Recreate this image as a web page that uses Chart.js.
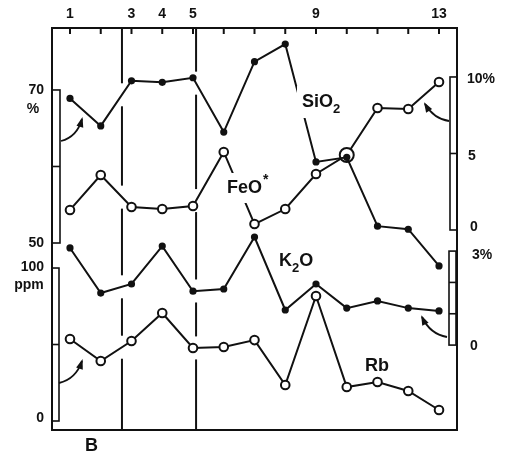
<!DOCTYPE html>
<html>
<head>
<meta charset="utf-8">
<script src="https://cdn.jsdelivr.net/npm/chart.js@4.4.1/dist/chart.umd.min.js"></script>
<style>
  html, body { margin: 0; padding: 0; background: #fff; }
  #wrap { width: 507px; height: 461px; }
</style>
</head>
<body>
<div id="wrap"><canvas id="chart"></canvas></div>
<script>
// sample numbers (x) and the ones labelled on the top edge
const samples = [1, 2, 3, 4, 5, 6, 7, 8, 9, 10, 11, 12, 13];
const topLabels = ['1', '', '3', '4', '5', '', '', '', '9', '', '', '', '13'];

// SiO2 (%), left upper scale bar
const sio2 = [68.9, 65.3, 71.2, 71.0, 71.6, 64.5, 73.7, 76.0, 60.6, 61.2, 52.2, 51.8, 47.0];
// FeO* (%), right upper scale bar
const feo = [1.31, 3.59, 1.50, 1.37, 1.57, 5.10, 0.39, 1.37, 3.66, 4.90, 7.97, 7.91, 9.67];
// K2O (%), right lower scale bar
const k2o = [3.10, 1.66, 1.95, 3.16, 1.72, 1.79, 3.45, 1.12, 1.95, 1.18, 1.41, 1.18, 1.09];
// Rb (ppm), left lower scale bar
const rb = [53.6, 39.2, 52.3, 70.6, 47.7, 48.4, 52.9, 23.5, 81.7, 22.2, 25.5, 19.6, 7.2];

// vertical boundaries between units
const boundaries = [2.69, 5.1];

// scale bar ticks
const sio2Ticks = [50, 60, 70];
const feoTicks = [0, 5, 10];
const k2oTicks = [0, 1, 2, 3];
const rbTicks = [0, 50, 100];

const INK = '#111';
const FONT = '"Liberation Sans", Arial, sans-serif';

function pts(vals) {
  return samples.map((s, i) => ({ x: s, y: vals[i] }));
}

function arrow(ctx, x0, y0, cx, cy, x1, y1) {
  ctx.beginPath();
  ctx.moveTo(x0, y0);
  ctx.quadraticCurveTo(cx, cy, x1, y1);
  ctx.stroke();
  const a = Math.atan2(y1 - cy, x1 - cx);
  const L = 8, W = 3.5;
  ctx.beginPath();
  ctx.moveTo(x1 + Math.cos(a) * 2, y1 + Math.sin(a) * 2);
  ctx.lineTo(x1 - Math.cos(a) * L + Math.sin(a) * W, y1 - Math.sin(a) * L - Math.cos(a) * W);
  ctx.lineTo(x1 - Math.cos(a) * L - Math.sin(a) * W, y1 - Math.sin(a) * L + Math.cos(a) * W);
  ctx.closePath();
  ctx.fill();
}

function scaleBar(ctx, scale, x0, w, ticks) {
  const top = scale.getPixelForValue(ticks[ticks.length - 1]);
  const bot = scale.getPixelForValue(ticks[0]);
  ctx.strokeRect(x0, top, w, bot - top);
  ticks.slice(1, -1).forEach(t => {
    const y = scale.getPixelForValue(t);
    ctx.beginPath();
    ctx.moveTo(x0, y);
    ctx.lineTo(x0 + w, y);
    ctx.stroke();
  });
}

function text(ctx, str, x, y, size, align) {
  ctx.font = 'bold ' + size + 'px ' + FONT;
  ctx.textAlign = align || 'left';
  ctx.fillText(str, x, y);
}

// text with a white box behind it (cuts the line it sits on)
function boxedLabel(ctx, parts, x, y, pad) {
  let w = 0;
  parts.forEach(p => {
    ctx.font = 'bold ' + p.size + 'px ' + FONT;
    w += ctx.measureText(p.t).width + (p.gap || 0);
  });
  if (pad >= 0) {
    ctx.fillStyle = '#fff';
    ctx.fillRect(x - pad, y - 16 - pad, w + pad * 2, 22 + pad * 2);
  }
  ctx.fillStyle = INK;
  let cx = x;
  parts.forEach(p => {
    ctx.font = 'bold ' + p.size + 'px ' + FONT;
    ctx.textAlign = 'left';
    ctx.fillText(p.t, cx, y + (p.dy || 0));
    cx += ctx.measureText(p.t).width + (p.gap || 0);
  });
}

// y pixels where the series lines cross a vertical boundary
function crossings(chart, b) {
  const x = chart.scales.x;
  const series = [[sio2, 'ySi'], [feo, 'yFe'], [k2o, 'yK'], [rb, 'yRb']];
  const i = samples.findIndex((s, k) => s <= b && samples[k + 1] > b);
  const xb = x.getPixelForValue(b);
  return series.map(([vals, id]) => {
    const sc = chart.scales[id];
    const x1 = x.getPixelForValue(samples[i]), x2 = x.getPixelForValue(samples[i + 1]);
    const y1 = sc.getPixelForValue(vals[i]), y2 = sc.getPixelForValue(vals[i + 1]);
    return y1 + (y2 - y1) * (xb - x1) / (x2 - x1);
  }).sort((p, q) => p - q);
}

const decor = {
  id: 'decor',
  beforeDatasetsDraw(chart) {
    const { ctx, chartArea: a, scales } = chart;
    ctx.save();
    ctx.strokeStyle = INK;
    ctx.lineWidth = 2;
    const half = 11.5;
    boundaries.forEach(b => {
      const x = scales.x.getPixelForValue(b);
      let y = a.top;
      crossings(chart, b).forEach(c => {
        ctx.beginPath();
        ctx.moveTo(x, y);
        ctx.lineTo(x, c - half);
        ctx.stroke();
        y = c + half;
      });
      ctx.beginPath();
      ctx.moveTo(x, y);
      ctx.lineTo(x, a.bottom);
      ctx.stroke();
    });
    ctx.restore();
  },
  afterDatasetsDraw(chart) {
    const { ctx, chartArea: a, scales } = chart;
    ctx.save();
    ctx.strokeStyle = INK;
    ctx.fillStyle = INK;
    ctx.lineWidth = 2;
    ctx.strokeRect(a.left, a.top, a.right - a.left, a.bottom - a.top);

    // top ticks and sample numbers
    ctx.textBaseline = 'middle';
    samples.forEach((s, i) => {
      const x = scales.x.getPixelForValue(s);
      ctx.beginPath();
      ctx.moveTo(x, a.top);
      ctx.lineTo(x, a.top + 6);
      ctx.stroke();
      if (topLabels[i]) text(ctx, topLabels[i], x, 14, 14, 'center');
    });

    // scale bars
    ctx.lineWidth = 1.6;
    scaleBar(ctx, scales.ySi, a.left, 8, sio2Ticks);
    scaleBar(ctx, scales.yRb, a.left, 7, rbTicks);
    scaleBar(ctx, scales.yFe, a.right - 7, 7, feoTicks);
    scaleBar(ctx, scales.yK, a.right - 8, 7, k2oTicks);

    // scale labels
    const ySi = scales.ySi, yFe = scales.yFe, yK = scales.yK, yRb = scales.yRb;
    text(ctx, '70', 44, ySi.getPixelForValue(70), 14, 'right');
    text(ctx, '%', 33, ySi.getPixelForValue(70) + 19, 14, 'center');
    text(ctx, '50', 44, ySi.getPixelForValue(50), 14, 'right');
    text(ctx, '100', 44, yRb.getPixelForValue(100) - 1, 14, 'right');
    text(ctx, 'ppm', 29, yRb.getPixelForValue(100) + 17, 14, 'center');
    text(ctx, '0', 44, yRb.getPixelForValue(0) - 3, 14, 'right');
    text(ctx, '10%', 467, yFe.getPixelForValue(10) + 2, 14, 'left');
    text(ctx, '5', 468, yFe.getPixelForValue(5) + 3, 14, 'left');
    text(ctx, '0', 470, yFe.getPixelForValue(0) - 3, 14, 'left');
    text(ctx, '3%', 472, yK.getPixelForValue(3) + 4, 14, 'left');
    text(ctx, '0', 470, yK.getPixelForValue(0) + 1, 14, 'left');

    // curved arrows from the scale bars to their curves
    ctx.lineWidth = 1.8;
    arrow(ctx, 61, 141, 77, 137, 82, 119);
    arrow(ctx, 59, 383, 76, 379, 82, 361);
    arrow(ctx, 449, 121, 434, 119, 425, 104);
    arrow(ctx, 447, 337, 430, 334, 422, 317);

    // curve labels
    ctx.textBaseline = 'alphabetic';
    boxedLabel(ctx, [{ t: 'SiO', size: 18 }, { t: '2', size: 13, dy: 6 }], 302, 107, 5);
    boxedLabel(ctx, [{ t: 'FeO', size: 18, gap: 1 }, { t: '*', size: 14, dy: -9 }], 227, 193, 4);
    boxedLabel(ctx, [{ t: 'K', size: 18 }, { t: '2', size: 13, dy: 6 }, { t: 'O', size: 18 }], 279, 266, 2);
    boxedLabel(ctx, [{ t: 'Rb', size: 18 }], 365, 371, -1);
    text(ctx, 'B', 85, 451, 18, 'left');
    ctx.restore();
  }
};

const feoRadius = feo.map((v, i) => (i === 9 ? 7 : 4.3));

new Chart(document.getElementById('chart'), {
  type: 'line',
  data: {
    datasets: [
      {
        label: 'SiO2', data: pts(sio2), yAxisID: 'ySi', order: 1, tension: 0,
        borderColor: INK, borderWidth: 2, pointRadius: 3.6,
        pointBackgroundColor: INK, pointBorderColor: INK, pointBorderWidth: 0
      },
      {
        label: 'FeO*', data: pts(feo), yAxisID: 'yFe', order: 2, tension: 0,
        borderColor: INK, borderWidth: 2, pointRadius: feoRadius,
        pointBackgroundColor: '#fff', pointBorderColor: INK, pointBorderWidth: 2
      },
      {
        label: 'K2O', data: pts(k2o), yAxisID: 'yK', order: 1, tension: 0,
        borderColor: INK, borderWidth: 2, pointRadius: 3.6,
        pointBackgroundColor: INK, pointBorderColor: INK, pointBorderWidth: 0
      },
      {
        label: 'Rb', data: pts(rb), yAxisID: 'yRb', order: 2, tension: 0,
        borderColor: INK, borderWidth: 2, pointRadius: 4.3,
        pointBackgroundColor: '#fff', pointBorderColor: INK, pointBorderWidth: 2
      }
    ]
  },
  options: {
    responsive: true,
    maintainAspectRatio: false,
    animation: false,
    layout: { padding: { left: 52, top: 28, right: 50, bottom: 31 } },
    plugins: { legend: { display: false }, tooltip: { enabled: false } },
    scales: {
      x: { type: 'linear', min: 0.415, max: 13.585, display: false },
      ySi: { type: 'linear', min: 25.56, max: 78.10, display: false },
      yFe: { type: 'linear', min: -13.07, max: 13.20, display: false },
      yK: { type: 'linear', min: -2.71, max: 10.12, display: false },
      yRb: { type: 'linear', min: -5.88, max: 256.9, display: false }
    }
  },
  plugins: [decor]
});
</script>
</body>
</html>
